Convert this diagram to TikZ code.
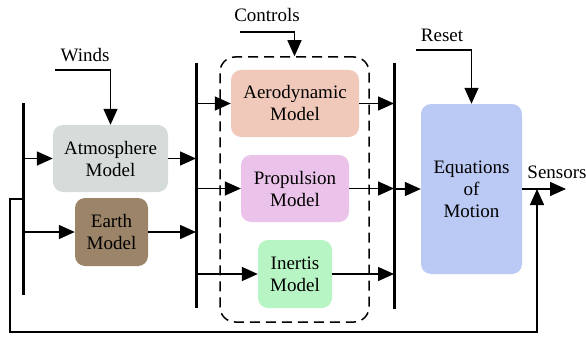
\documentclass[tikz,border=0pt]{standalone}
\usepackage{fontspec}
\setmainfont{Liberation Serif}
\usepackage{tikz}
\usetikzlibrary{positioning, arrows.meta, shapes}

\definecolor{atmcol}{HTML}{D6DCD9}
\definecolor{earthcol}{HTML}{9C8469}
\definecolor{aerocol}{HTML}{F0C9BB}
\definecolor{propcol}{HTML}{EBC3EA}
\definecolor{inercol}{HTML}{B8F5C5}
\definecolor{eomcol}{HTML}{BBCAF4}

\begin{document}
\begin{tikzpicture}[x=1pt, y=-1pt,
        every node/.style={font=\fontsize{19}{22}\selectfont, align=center},
        model/.style={rectangle, rounded corners=10pt, inner sep=0pt},
        tip/.style={-{Triangle[length=16pt, width=14pt]}},
        arr/.style={line width=1.5pt, tip},
        bus/.style={line width=3pt},
        wire/.style={line width=1.5pt}]
            \useasboundingbox (0, 0) rectangle (586, 337);

            % dashed group round the force models
            \node[draw, dashed, dash pattern=on 10pt off 6pt, line width=1.5pt, rounded corners=15pt, minimum width=149pt, minimum height=265pt] (forces) at (294.5, 189.5) {};

            \node[model, fill=atmcol, minimum width=115pt, minimum height=67pt] (atm) at (110.5, 158.5) {Atmosphere\\Model};
            \node[model, fill=earthcol, minimum width=73pt, minimum height=68pt] (earth) at (111.5, 232) {Earth\\Model};
            \node[model, fill=aerocol, minimum width=128pt, minimum height=67pt] (aero) at (295, 103.5) {Aerodynamic\\Model};
            \node[model, fill=propcol, minimum width=108pt, minimum height=67pt] (prop) at (295, 188.5) {Propulsion\\Model};
            \node[model, fill=inercol, minimum width=74pt, minimum height=68pt] (iner) at (295, 274) {Inertis\\Model};
            \node[model, fill=eomcol, minimum width=101pt, minimum height=170pt] (eom) at (471.5, 189) {Equations\\of\\Motion};

            \node (winds) at (85, 55) {Winds};
            \node (controls) at (267, 15) {Controls};
            \node (reset) at (442, 35) {Reset};
            \node (sensors) at (557, 172) {Sensors};

            % buses
            \coordinate (b1t) at (23, 103);
            \coordinate (b1b) at (23, 295);
            \coordinate (b2t) at (196, 63);
            \coordinate (b2b) at (196, 308);
            \coordinate (b3t) at (394, 63);
            \coordinate (b3b) at (394, 309);
            \draw[bus] (b1t) -- (b1b);
            \draw[bus] (b2t) -- (b2b);
            \draw[bus] (b3t) -- (b3b);

            % inputs from above
            \coordinate (windsin) at (55, 70);
            \coordinate (ctrlin) at (240, 32);
            \coordinate (resetin) at (416, 50);
            \draw[arr] (windsin) -| (atm.north);
            \draw[arr] (ctrlin) -| (forces.north);
            \draw[arr] (resetin) -| (eom.north);

            % environment models
            \draw[arr] (atm -| b1t) -- (atm);
            \draw[arr] (earth -| b1t) -- (earth);
            \draw[arr] (atm) -- (atm -| b2t);
            \draw[arr] (earth) -- (earth -| b2t);

            % force models
            \draw[arr] (aero -| b2t) -- (aero);
            \draw[arr] (prop -| b2t) -- (prop);
            \draw[arr] (iner -| b2t) -- (iner);
            \draw[arr] (aero) -- (aero -| b3t);
            \draw[arr] (prop) -- (prop -| b3t);
            \draw[arr] (iner) -- (iner -| b3t);

            % equations of motion and sensors
            \coordinate (sensout) at (566, 189);
            \coordinate (fbtap) at (537, 189);
            \draw[arr] (eom -| b3t) -- (eom);
            \draw[arr] (eom) -- (sensout);

            % feedback
            \coordinate (fbstart) at (23, 199);
            \draw[wire, tip] (fbstart) -- (10, 199) -- (10, 332) -| (fbtap);
        \end{tikzpicture}
\end{document}
